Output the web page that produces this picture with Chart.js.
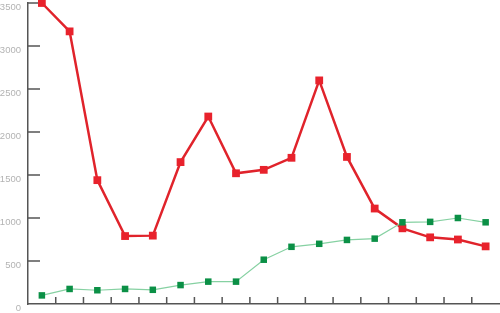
<!DOCTYPE html>
<html>
<head>
<meta charset="utf-8">
<script src="https://cdn.jsdelivr.net/npm/chart.js@4.4.1/dist/chart.umd.min.js"></script>
<style>
  html, body { margin: 0; padding: 0; background: #fff; }
  #wrap { width: 500px; height: 313px; }
</style>
</head>
<body>
<div id="wrap"><canvas id="grafico"></canvas></div>
<script>
// categorias (sin etiquetas visibles en el eje x)
const categorias = ['1','2','3','4','5','6','7','8','9','10','11','12','13','14','15','16','17'];
const serieRoja = [3500, 3170, 1440, 790, 795, 1650, 2180, 1520, 1560, 1700, 2600, 1710, 1110, 880, 775, 750, 670];
const serieVerde = [100, 175, 160, 175, 165, 220, 260, 260, 515, 665, 700, 745, 760, 950, 955, 1000, 950];
const ticksY = [0, 500, 1000, 1500, 2000, 2500, 3000, 3500];

const colorEje = '#555555';

// marcas de los ejes hacia dentro del area
const marcasEjes = {
  id: 'marcasEjes',
  beforeDatasetsDraw(chart) {
    const ctx = chart.ctx;
    const x = chart.scales.x;
    const y = chart.scales.y;
    const area = chart.chartArea;
    ctx.save();
    ctx.strokeStyle = colorEje;
    ctx.lineWidth = 1.5;
    ctx.beginPath();
    // marcas del eje x entre categorias
    for (let i = 1; i < categorias.length; i++) {
      const px = (x.getPixelForValue(i - 1) + x.getPixelForValue(i)) / 2;
      ctx.moveTo(px, area.bottom);
      ctx.lineTo(px, area.bottom - 7);
    }
    // marcas del eje y
    ticksY.forEach(function (v) {
      if (v === 0) return;
      const py = y.getPixelForValue(v);
      ctx.moveTo(area.left, py);
      ctx.lineTo(area.left + 12, py);
    });
    ctx.stroke();
    ctx.restore();
  }
};

const ctx = document.getElementById('grafico');
new Chart(ctx, {
  type: 'line',
  data: {
    labels: categorias,
    datasets: [{
      label: 'Verde',
      data: serieVerde,
      borderColor: '#86d1a2',
      borderWidth: 1.2,
      backgroundColor: '#0b9046',
      pointBackgroundColor: '#0b9046',
      pointBorderColor: '#0b9046',
      pointBorderWidth: 0,
      pointStyle: 'rect',
      pointRadius: 4.6,
      tension: 0,
      clip: false
    }, {
      label: 'Roja',
      data: serieRoja,
      borderColor: '#e0232b',
      borderWidth: 2.5,
      backgroundColor: '#e8222c',
      pointBackgroundColor: '#e8222c',
      pointBorderColor: '#e8222c',
      pointBorderWidth: 0,
      pointStyle: 'rect',
      pointRadius: 5.5,
      tension: 0,
      clip: false
    }]
  },
  options: {
    responsive: true,
    maintainAspectRatio: false,
    animation: false,
    events: [],
    layout: { autoPadding: false, padding: { top: 3, right: 0.5, bottom: 9, left: 0 } },
    plugins: {
      legend: { display: false },
      tooltip: { enabled: false }
    },
    scales: {
      x: {
        offset: true,
        ticks: { display: false },
        grid: { display: false, drawTicks: false },
        border: { display: true, color: colorEje, width: 1.5 },
        afterFit: function (scale) {
          scale.paddingLeft = 0;
          scale.paddingRight = 0;
        }
      },
      y: {
        min: 0,
        max: 3500,
        afterFit: function (scale) {
          scale.width = 28;
          scale.paddingTop = 0;
          scale.paddingBottom = 0;
        },
        afterBuildTicks: function (scale) {
          scale.ticks = ticksY.map(function (v) { return { value: v }; });
        },
        ticks: {
          color: '#b3b3b3',
          padding: 7,
          labelOffset: 4,
          font: { family: 'Liberation Sans', size: 9.5 },
          callback: function (v) { return String(v); }
        },
        grid: { display: false, drawTicks: false },
        border: { display: true, color: colorEje, width: 1.5 }
      }
    }
  },
  plugins: [marcasEjes]
});
</script>
</body>
</html>
